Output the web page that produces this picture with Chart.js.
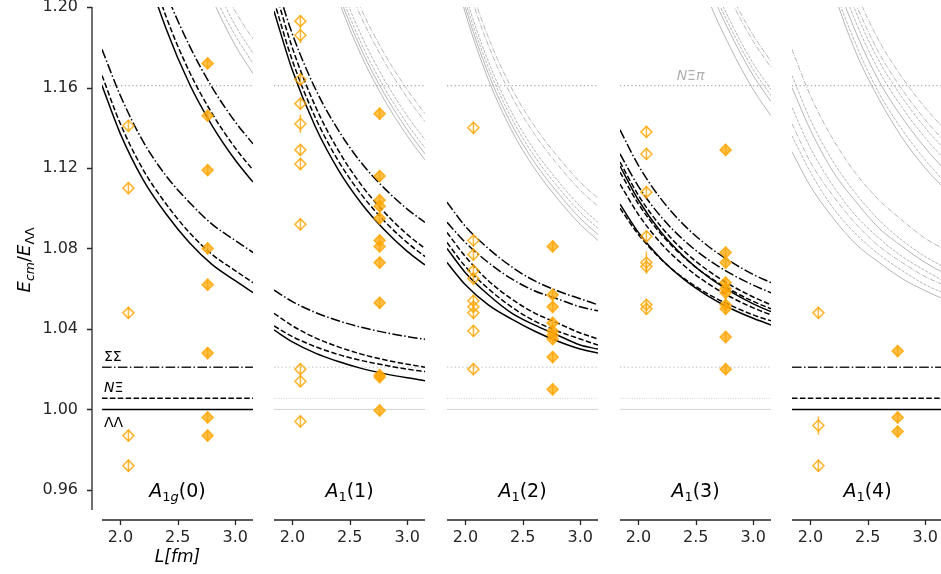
<!DOCTYPE html>
<html>
<head>
<meta charset="utf-8">
<script src="https://cdn.jsdelivr.net/npm/chart.js@4.4.1/dist/chart.umd.min.js"></script>
<style>
  body { margin: 0; background: #fff; width: 941px; height: 574px; overflow: hidden; position: relative; }
  canvas { position: absolute; top: 0; }
</style>
</head>
<body>
<canvas id="p0"></canvas>
<canvas id="p1"></canvas>
<canvas id="p2"></canvas>
<canvas id="p3"></canvas>
<canvas id="p4"></canvas>
<script>
const Lgrid = [1.84, 2.0, 2.2, 2.4, 2.6, 2.8, 3.0, 3.155];
const Lpts = [2.07, 2.76];
const xTicks = [2.0, 2.5, 3.0];
const yTicks = [0.96, 1.00, 1.04, 1.08, 1.12, 1.16, 1.20];

// thresholds (E / E_ΛΛ)
const thrKinds = ['LL', 'NX', 'SS', 'NXpi'];
const thrValues = [1.000, 1.0055, 1.021, 1.161];

// irrep subscripts and momenta
const irrepSub = ['1g', '1', '1', '1', '1'];
const irrepMom = ['0', '1', '2', '3', '4'];

// ---- A1g(0)
const p0Kinds = ['LL', 'NX', 'SS', 'LL', 'NX', 'SS'];
const p0Levels = [
  [1.161, 1.137, 1.114, 1.097, 1.083, 1.072, 1.064, 1.058],
  [1.166, 1.142, 1.119, 1.102, 1.088, 1.077, 1.069, 1.063],
  [1.179, 1.156, 1.133, 1.116, 1.103, 1.092, 1.084, 1.078],
  [1.315, 1.268, 1.223, 1.189, 1.162, 1.141, 1.124, 1.113],
  [1.323, 1.276, 1.230, 1.195, 1.168, 1.147, 1.130, 1.119],
  [1.333, 1.286, 1.241, 1.207, 1.181, 1.160, 1.143, 1.132]
];
const p0HighKinds = ['LL', 'NX', 'NX', 'SS'];
const p0High = [
  [1.430, 1.369, 1.310, 1.266, 1.231, 1.204, 1.181, 1.167],
  [1.433, 1.372, 1.314, 1.270, 1.236, 1.208, 1.186, 1.172],
  [1.440, 1.379, 1.320, 1.276, 1.241, 1.214, 1.191, 1.177],
  [1.447, 1.386, 1.327, 1.283, 1.248, 1.220, 1.198, 1.184]
];
const p0Small = [1.141, 1.110, 1.048, 0.987, 0.972];
const p0SmallErr = [0.003, 0.003, 0.003, 0.003, 0.003];
const p0Big = [1.172, 1.146, 1.119, 1.080, 1.062, 1.028, 0.996, 0.987];
const p0BigErr = [0.003, 0.003, 0.003, 0.003, 0.003, 0.003, 0.003, 0.003];

// ---- A1(1)
const p1Kinds = ['LL', 'NX', 'NX', 'SS', 'LL', 'NX', 'NX', 'SS'];
const p1Levels = [
  [1.0395, 1.0336, 1.0280, 1.0238, 1.0204, 1.0178, 1.0157, 1.0143],
  [1.0415, 1.0362, 1.0312, 1.0273, 1.0243, 1.0220, 1.0200, 1.0188],
  [1.0478, 1.0416, 1.0356, 1.0311, 1.0275, 1.0247, 1.0225, 1.0210],
  [1.0593, 1.0536, 1.0482, 1.0441, 1.0408, 1.0383, 1.0362, 1.0349],
  [1.198, 1.1686, 1.1405, 1.1191, 1.1025, 1.0893, 1.0786, 1.0718],
  [1.203, 1.1734, 1.1451, 1.1236, 1.1069, 1.0937, 1.0829, 1.076],
  [1.210, 1.1797, 1.1507, 1.1288, 1.1116, 1.0981, 1.0870, 1.080],
  [1.215, 1.1866, 1.1594, 1.1388, 1.1226, 1.1100, 1.0996, 1.093]
];
const p1HighKinds = ['LL', 'LL', 'NX', 'NX', 'SS', 'SS'];
const p1High = [
  [1.338, 1.289, 1.241, 1.204, 1.176, 1.154, 1.136, 1.124],
  [1.341, 1.292, 1.244, 1.207, 1.179, 1.157, 1.139, 1.127],
  [1.344, 1.295, 1.247, 1.210, 1.182, 1.160, 1.142, 1.130],
  [1.348, 1.299, 1.251, 1.214, 1.186, 1.164, 1.146, 1.134],
  [1.357, 1.308, 1.260, 1.223, 1.195, 1.173, 1.155, 1.143],
  [1.361, 1.312, 1.264, 1.227, 1.199, 1.177, 1.159, 1.147]
];
const p1Small = [1.193, 1.186, 1.164, 1.152, 1.142, 1.129, 1.122, 1.092, 1.020, 1.014, 0.994];
const p1SmallErr = [0.003, 0.004, 0.003, 0.003, 0.0045, 0.003, 0.003, 0.003, 0.003, 0.003, 0.003];
const p1Big = [1.147, 1.116, 1.104, 1.101, 1.095, 1.084, 1.081, 1.073, 1.053, 1.017, 1.016, 0.9995];
const p1BigErr = [0.003, 0.003, 0.003, 0.003, 0.003, 0.003, 0.003, 0.003, 0.003, 0.003, 0.003, 0.003];

// ---- A1(2)
const p2Kinds = ['SS', 'SS', 'NX', 'NX', 'LL', 'LL'];
const p2Levels = [
  [1.103, 1.091, 1.080, 1.071, 1.064, 1.059, 1.055, 1.052],
  [1.093, 1.083, 1.073, 1.065, 1.059, 1.055, 1.051, 1.049],
  [1.088, 1.076, 1.064, 1.055, 1.048, 1.043, 1.038, 1.035],
  [1.083, 1.071, 1.060, 1.051, 1.044, 1.039, 1.035, 1.032],
  [1.080, 1.068, 1.057, 1.048, 1.042, 1.037, 1.032, 1.030],
  [1.073, 1.062, 1.052, 1.045, 1.039, 1.034, 1.030, 1.028]
];
const p2HighKinds = ['LL', 'LL', 'NX', 'NX', 'SS', 'SS'];
const p2High = [
  [1.231, 1.197, 1.164, 1.139, 1.120, 1.105, 1.092, 1.084],
  [1.234, 1.200, 1.167, 1.142, 1.123, 1.108, 1.095, 1.087],
  [1.237, 1.203, 1.170, 1.145, 1.126, 1.111, 1.098, 1.090],
  [1.240, 1.206, 1.173, 1.148, 1.129, 1.114, 1.101, 1.093],
  [1.248, 1.214, 1.181, 1.156, 1.137, 1.122, 1.109, 1.101],
  [1.252, 1.218, 1.185, 1.160, 1.141, 1.126, 1.113, 1.105]
];
const p2Small = [1.140, 1.084, 1.077, 1.069, 1.065, 1.054, 1.051, 1.048, 1.039, 1.020];
const p2SmallErr = [0.003, 0.003, 0.003, 0.003, 0.003, 0.003, 0.003, 0.003, 0.003, 0.003];
const p2Big = [1.081, 1.057, 1.051, 1.043, 1.039, 1.037, 1.035, 1.026, 1.010];
const p2BigErr = [0.003, 0.003, 0.003, 0.003, 0.003, 0.003, 0.003, 0.003, 0.003];

// ---- A1(3)
const p3Kinds = ['SS', 'SS', 'NX', 'LL', 'NX', 'NX', 'LL', 'NX'];
const p3Levels = [
  [1.139, 1.1213, 1.1044, 1.0915, 1.0815, 1.0736, 1.0671, 1.063],
  [1.127, 1.1109, 1.0956, 1.0839, 1.0748, 1.0676, 1.0618, 1.058],
  [1.123, 1.1065, 1.0907, 1.0786, 1.0693, 1.0619, 1.0559, 1.052],
  [1.121, 1.1041, 1.0880, 1.0758, 1.0662, 1.0587, 1.0525, 1.0486],
  [1.118, 1.1022, 1.0870, 1.0755, 1.0665, 1.0595, 1.0537, 1.050],
  [1.112, 1.0969, 1.0824, 1.0714, 1.0628, 1.0560, 1.0505, 1.047],
  [1.102, 1.0880, 1.0747, 1.0645, 1.0566, 1.0503, 1.0453, 1.042],
  [1.100, 1.0870, 1.0745, 1.0650, 1.0576, 1.0518, 1.0470, 1.044]
];
const p3HighKinds = ['LL', 'LL', 'NX', 'NX', 'SS', 'SS'];
const p3High = [
  [1.390, 1.333, 1.279, 1.237, 1.205, 1.180, 1.159, 1.146],
  [1.397, 1.340, 1.286, 1.244, 1.212, 1.187, 1.166, 1.153],
  [1.400, 1.343, 1.289, 1.247, 1.215, 1.190, 1.169, 1.156],
  [1.403, 1.346, 1.292, 1.250, 1.218, 1.193, 1.172, 1.159],
  [1.414, 1.357, 1.303, 1.261, 1.229, 1.204, 1.183, 1.170],
  [1.417, 1.360, 1.306, 1.264, 1.232, 1.207, 1.186, 1.173]
];
const p3Small = [1.138, 1.127, 1.108, 1.086, 1.073, 1.071, 1.052, 1.050];
const p3SmallErr = [0.003, 0.003, 0.003, 0.003, 0.0055, 0.003, 0.003, 0.003];
const p3Big = [1.129, 1.078, 1.073, 1.063, 1.060, 1.058, 1.052, 1.050, 1.036, 1.020];
const p3BigErr = [0.003, 0.003, 0.003, 0.003, 0.003, 0.003, 0.003, 0.003, 0.003, 0.003];

// ---- A1(4)
const p4Kinds = [];
const p4Levels = [];
const p4HighKinds = ['SS', 'NX', 'LL', 'NX', 'SS', 'NX', 'LL', 'LL', 'NX', 'LL', 'NX', 'NX', 'SS', 'SS'];
const p4High = [
  [1.179, 1.156, 1.134, 1.117, 1.104, 1.094, 1.085, 1.080],
  [1.166, 1.144, 1.123, 1.107, 1.094, 1.084, 1.076, 1.071],
  [1.160, 1.139, 1.118, 1.103, 1.090, 1.081, 1.073, 1.068],
  [1.150, 1.130, 1.111, 1.096, 1.085, 1.076, 1.069, 1.064],
  [1.142, 1.123, 1.106, 1.092, 1.081, 1.073, 1.066, 1.062],
  [1.136, 1.118, 1.100, 1.087, 1.077, 1.069, 1.062, 1.058],
  [1.128, 1.111, 1.095, 1.082, 1.073, 1.065, 1.059, 1.055],
  [1.289, 1.247, 1.208, 1.177, 1.154, 1.135, 1.120, 1.1105],
  [1.292, 1.251, 1.211, 1.181, 1.157, 1.139, 1.124, 1.114],
  [1.298, 1.257, 1.217, 1.187, 1.163, 1.145, 1.130, 1.120],
  [1.303, 1.262, 1.222, 1.192, 1.168, 1.150, 1.135, 1.125],
  [1.308, 1.267, 1.227, 1.197, 1.173, 1.155, 1.140, 1.130],
  [1.312, 1.271, 1.231, 1.201, 1.177, 1.159, 1.144, 1.134],
  [1.318, 1.277, 1.237, 1.207, 1.183, 1.165, 1.150, 1.140]
];
const p4Small = [1.048, 0.992, 0.972];
const p4SmallErr = [0.003, 0.0045, 0.003];
const p4Big = [1.029, 0.996, 0.989];
const p4BigErr = [0.003, 0.003, 0.003];

const allKinds = [p0Kinds, p1Kinds, p2Kinds, p3Kinds, p4Kinds];
const allLevels = [p0Levels, p1Levels, p2Levels, p3Levels, p4Levels];
const allHighKinds = [p0HighKinds, p1HighKinds, p2HighKinds, p3HighKinds, p4HighKinds];
const allHigh = [p0High, p1High, p2High, p3High, p4High];
const allSmall = [p0Small, p1Small, p2Small, p3Small, p4Small];
const allSmallErr = [p0SmallErr, p1SmallErr, p2SmallErr, p3SmallErr, p4SmallErr];
const allBig = [p0Big, p1Big, p2Big, p3Big, p4Big];
const allBigErr = [p0BigErr, p1BigErr, p2BigErr, p3BigErr, p4BigErr];

// ---------------- styling
const FONT = 'DejaVu Sans';
const INK = '#262626';
const ORANGE = 'rgba(255,165,0,0.8)';
const dashBlack = { LL: [], NX: [5.5, 2.4], SS: [9.6, 2.4, 1.5, 2.4] };
const dashGray = { LL: [], NX: [3, 1.3], SS: [5.1, 1.3, 0.8, 1.3] };

const plotLeft = [101.7, 274.35, 447, 619.65, 792.3];
const plotW = 151;

function curveSet(l, kind, gray) {
  return {
    data: Lgrid.map((x, i) => ({ x: x, y: l[i] })),
    borderColor: gray ? 'rgba(140,140,140,0.8)' : '#000',
    borderWidth: gray ? 0.8 : 1.5,
    borderDash: (gray ? dashGray : dashBlack)[kind],
    pointRadius: 0,
    cubicInterpolationMode: 'monotone',
    fill: false,
    order: gray ? 3 : 2
  };
}

function thresholdSets(panel) {
  const edge = panel === 0 || panel === 4;
  return thrKinds.map((k, i) => {
    const v = thrValues[i];
    let st;
    if (k === 'NXpi') st = { c: 'rgba(140,140,140,0.75)', w: 1.2, d: [1.2, 2.6] };
    else if (edge) st = { c: k === 'SS' ? '#222' : '#000', w: 1.5, d: dashBlack[k] };
    else if (k === 'LL') st = { c: '#d4d4d4', w: 1, d: [] };
    else if (k === 'NX') st = { c: '#c4c4c4', w: 0.8, d: [1, 1.4] };
    else st = { c: '#d4d4d4', w: 1.4, d: [1.4, 2.4] };
    return {
      data: [{ x: 1.84, y: v }, { x: 3.155, y: v }],
      borderColor: st.c, borderWidth: st.w, borderDash: st.d,
      pointRadius: 0, fill: false, order: 4
    };
  });
}

function pointSet(L, vals, errs, filled) {
  return {
    data: vals.map(v => ({ x: L, y: v })),
    errs: errs,
    showLine: false,
    pointStyle: 'rectRot',
    pointRadius: 5.5,
    pointBorderWidth: 1.6,
    pointBorderColor: ORANGE,
    pointBackgroundColor: filled ? 'rgba(255,165,0,0.7)' : 'rgba(255,255,255,0)',
    order: 1
  };
}

// draw a run of text pieces: [text, size, italic, dy]
function textRuns(ctx, parts, x, y, align) {
  const f = p => (p[2] ? 'italic ' : '') + p[1] + 'px "' + FONT + '"';
  let w = 0;
  parts.forEach(p => { ctx.font = f(p); w += ctx.measureText(p[0]).width; });
  let cx = align === 'center' ? x - w / 2 : x;
  ctx.textAlign = 'left';
  ctx.textBaseline = 'alphabetic';
  parts.forEach(p => {
    ctx.font = f(p);
    ctx.fillText(p[0], cx, y + (p[3] || 0));
    cx += ctx.measureText(p[0]).width;
  });
}

const deco = {
  id: 'deco',
  afterDatasetsDraw(chart) {
    const { ctx, scales: { x, y } } = chart;
    ctx.save();
    ctx.strokeStyle = ORANGE;
    ctx.lineWidth = 1.5;
    chart.data.datasets.forEach(ds => {
      if (!ds.errs) return;
      ds.data.forEach((p, j) => {
        const px = x.getPixelForValue(p.x);
        ctx.beginPath();
        ctx.moveTo(px, y.getPixelForValue(p.y - ds.errs[j]));
        ctx.lineTo(px, y.getPixelForValue(p.y + ds.errs[j]));
        ctx.stroke();
      });
    });
    ctx.restore();
  },
  afterDraw(chart, args, opts) {
    const { ctx, chartArea: a, scales: { x, y } } = chart;
    const i = opts.panel;
    ctx.save();
    // offset spines
    ctx.strokeStyle = INK;
    ctx.lineWidth = 1.3;
    const sy = a.bottom + 10;
    ctx.beginPath();
    ctx.moveTo(a.left, sy); ctx.lineTo(a.right, sy);
    xTicks.forEach(t => {
      const px = Math.round(x.getPixelForValue(t)) + 0.5;
      ctx.moveTo(px, sy); ctx.lineTo(px, sy + 5);
    });
    ctx.stroke();
    if (i === 0) {
      const sx = a.left - 10;
      ctx.beginPath();
      ctx.moveTo(sx, a.top); ctx.lineTo(sx, a.bottom);
      yTicks.forEach(t => {
        const py = Math.round(y.getPixelForValue(t)) + 0.5;
        ctx.moveTo(sx, py); ctx.lineTo(sx - 5, py);
      });
      ctx.stroke();
    }
    ctx.fillStyle = '#000';
    // panel title
    const cx = (a.left + a.right) / 2;
    const sub = irrepSub[i];
    const parts = [['A', 19, true, 0], [sub[0], 13, false, 4]];
    if (sub.length > 1) parts.push([sub.slice(1), 13, true, 4]);
    parts.push(['(' + irrepMom[i] + ')', 19, false, 0]);
    textRuns(ctx, parts, cx, 497, 'center');
    if (i === 0) {
      // threshold names
      textRuns(ctx, [['ΣΣ', 14, false, 0]], a.left + 2, y.getPixelForValue(thrValues[2]) - 6, 'left');
      textRuns(ctx, [['N', 14, true, 0], ['Ξ', 14, false, 0]], a.left + 2, y.getPixelForValue(thrValues[1]) - 6, 'left');
      textRuns(ctx, [['ΛΛ', 14, false, 0]], a.left + 2, y.getPixelForValue(thrValues[0]) + 18, 'left');
      // y label
      ctx.translate(30, 260);
      ctx.rotate(-Math.PI / 2);
      textRuns(ctx, [['E', 18, true, 0], ['cm', 12.5, true, 4], ['/', 18, false, 0], ['E', 18, true, 0], ['ΛΛ', 12.5, false, 4]], 0, 0, 'center');
    }
    if (i === 3) {
      ctx.fillStyle = '#b0b0b0';
      textRuns(ctx, [['N', 14, true, 0], ['Ξ', 14, false, 0], ['π', 14, true, 0]], cx - 5, y.getPixelForValue(thrValues[3]) - 6, 'center');
    }
    ctx.restore();
  }
};

function noPad(s) {
  s.paddingTop = 0; s.paddingBottom = 0; s.paddingLeft = 0; s.paddingRight = 0;
}

for (let i = 0; i < 5; i++) {
  const cv = document.getElementById('p' + i);
  const padL = i === 0 ? 0 : 10;
  const left = i === 0 ? 0 : Math.round(plotLeft[i]) - padL;
  const yw = i === 0 ? Math.round(plotLeft[0]) : 0;
  const w = padL + yw + plotW + 12;
  cv.width = w; cv.height = 574;
  cv.style.left = left + 'px';
  cv.style.width = w + 'px'; cv.style.height = '574px';

  const datasets = [];
  datasets.push(pointSet(Lpts[0], allSmall[i], allSmallErr[i], false));
  datasets.push(pointSet(Lpts[1], allBig[i], allBigErr[i], true));
  allLevels[i].forEach((l, k) => datasets.push(curveSet(l, allKinds[i][k], false)));
  allHigh[i].forEach((l, k) => datasets.push(curveSet(l, allHighKinds[i][k], true)));
  thresholdSets(i).forEach(d => datasets.push(d));

  new Chart(cv, {
    type: 'line',
    data: { datasets: datasets },
    plugins: [deco],
    options: {
      responsive: false,
      animation: false,
      devicePixelRatio: 1,
      layout: { padding: { left: padL, right: 12, top: 7, bottom: 0 } },
      plugins: { legend: { display: false }, tooltip: { enabled: false }, deco: { panel: i } },
      scales: {
        x: {
          type: 'linear', min: 1.84, max: 3.155,
          grid: { display: false, drawTicks: false },
          border: { display: false },
          afterBuildTicks: s => { s.ticks = xTicks.map(v => ({ value: v })); },
          afterFit: s => { s.height = 64; noPad(s); },
          ticks: {
            padding: 18, color: INK, autoSkip: false, maxRotation: 0,
            font: { family: FONT, size: 16 },
            callback: v => Number(v).toFixed(1)
          },
          title: {
            display: i === 0, text: 'L[fm]', color: '#000',
            font: { family: FONT, size: 17, style: 'italic' },
            padding: { top: 0, bottom: 6 }
          }
        },
        y: {
          type: 'linear', min: 0.95, max: 1.20,
          display: i === 0,
          grid: { display: false, drawTicks: false },
          border: { display: false },
          afterBuildTicks: s => { s.ticks = yTicks.map(v => ({ value: v })); },
          afterFit: s => { s.width = yw; noPad(s); },
          ticks: {
            padding: 24, color: INK, autoSkip: false,
            font: { family: FONT, size: 16 },
            callback: v => Number(v).toFixed(2)
          }
        }
      }
    }
  });
}
</script>
</body>
</html>
